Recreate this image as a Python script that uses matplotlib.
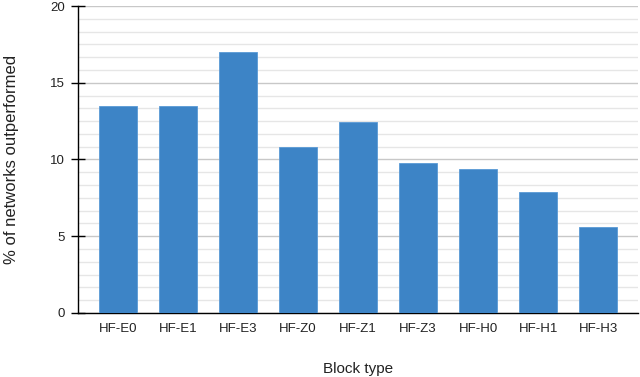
import matplotlib.pyplot as plt
import numpy as np
from matplotlib.ticker import MultipleLocator

# datos
bloques = ['HF-E0', 'HF-E1', 'HF-E3', 'HF-Z0', 'HF-Z1', 'HF-Z3', 'HF-H0', 'HF-H1', 'HF-H3']
porcentaje = [13.5, 13.5, 17.0, 10.8, 12.45, 9.75, 9.35, 7.9, 5.6]

plt.rcParams['font.family'] = 'Liberation Sans'

fig = plt.figure(figsize=(6.4, 3.77), dpi=100)
ax = fig.add_axes([0.122, 0.170, 0.875, 0.814])

x = np.arange(len(bloques))
ax.bar(x, porcentaje, width=0.633, color='#3d84c6', edgecolor='#5a9ad6',
       linewidth=0.6, zorder=3)

ax.set_xlim(-0.667, 8.667)
ax.set_ylim(0, 20)
ax.set_xticks(x)
ax.set_xticklabels(bloques)
ax.yaxis.set_major_locator(MultipleLocator(5))
ax.yaxis.set_minor_locator(MultipleLocator(5 / 6))

# lineas de grilla
ax.grid(which='major', axis='y', color='#c8c8c8', linewidth=1.0, zorder=0)
ax.grid(which='minor', axis='y', color='#e6e6e6', linewidth=1.0, zorder=0)

for s in ['top', 'right']:
    ax.spines[s].set_visible(False)
ax.spines['left'].set_linewidth(1.0)
ax.spines['bottom'].set_linewidth(1.0)

ax.tick_params(axis='y', which='major', direction='inout', length=9.4,
               width=1.0, labelsize=9.5, pad=5, labelcolor='#222222')
ax.tick_params(axis='y', which='minor', length=0)
ax.tick_params(axis='x', length=0, labelsize=9.5, pad=7, labelcolor='#222222')

ax.set_ylabel('% of networks outperformed', fontsize=12, color='#222222', labelpad=22)
ax.set_xlabel('Block type', fontsize=11, color='#222222', labelpad=19.5)

fig.savefig('out.png', dpi=100)
